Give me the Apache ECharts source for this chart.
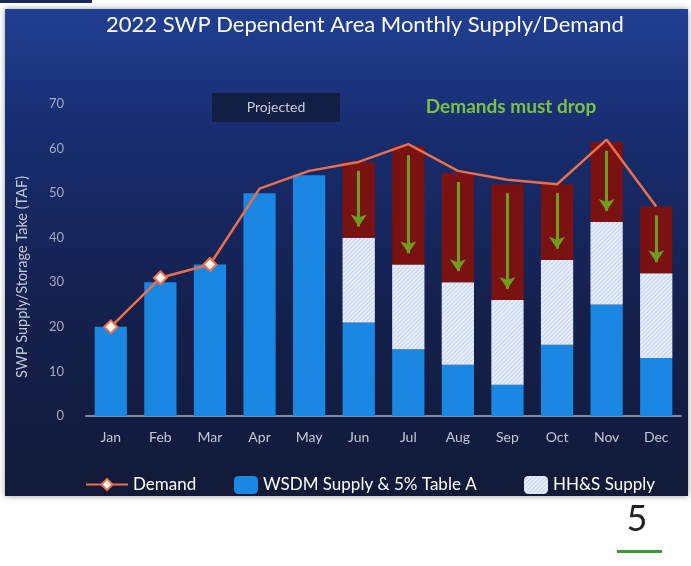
<!DOCTYPE html>
<html>
<head>
<meta charset="utf-8">
<script src="https://cdn.jsdelivr.net/npm/echarts@6/dist/echarts.min.js"></script>
<style>
  html, body { margin: 0; padding: 0; background: #fff; }
  #main { width: 691px; height: 566px; }
</style>
</head>
<body>
<div id="main"></div>
<script>
var months = ['Jan','Feb','Mar','Apr','May','Jun','Jul','Aug','Sep','Oct','Nov','Dec'];
var demand = [20, 31, 34, 51, 55, 57, 61, 55, 53, 52, 62, 47];
var wsdmSupply = [20, 30, 34, 50, 54, 21, 15, 11.5, 7, 16, 25, 13];
var hhsSupply = [null, null, null, null, null, 19, 19, 18.5, 19, 19, 18.5, 19];
var shortfall = [null, null, null, null, null, 17, 26.5, 24.5, 26, 17, 18, 15];
var yTicks = [0, 10, 20, 30, 40, 50, 60, 70];

var dom = document.getElementById('main');
var myChart = echarts.init(dom);

// demand markers only on the first three (actual) months
var demandData = demand.map(function (v, i) {
    return i < 3 ? v : { value: v, symbol: 'none' };
});

// green arrows inside the red "must drop" segments
var arrows = [];
months.forEach(function (m, i) {
    if (shortfall[i] == null) return;
    var base = wsdmSupply[i] + hhsSupply[i];
    var top = base + shortfall[i];
    arrows.push([{ coord: [m, top - 2] }, { coord: [m, base + 2.5] }]);
});

var fontName = 'Lato';

option = {
    backgroundColor: '#ffffff',
    textStyle: { fontFamily: fontName },
    graphic: [
        {
            type: 'rect', z: -10, silent: true,
            shape: { x: 5, y: 9, width: 683, height: 487 },
            style: {
                fill: new echarts.graphic.LinearGradient(0, 0, 0, 1, [
                    { offset: 0, color: '#213f92' },
                    { offset: 0.25, color: '#182d70' },
                    { offset: 0.6, color: '#15214e' },
                    { offset: 1, color: '#121a38' }
                ]),
                shadowBlur: 6, shadowColor: 'rgba(0,0,0,0.4)'
            }
        },
        {
            type: 'rect', z: -10, silent: true,
            shape: { x: 0, y: 0, width: 92, height: 3 },
            style: { fill: '#1a2a55' }
        },
        {
            type: 'rect', silent: true,
            shape: { x: 212, y: 93, width: 128, height: 29 },
            style: { fill: '#121f45' }
        },
        {
            type: 'text', silent: true, x: 276, y: 107,
            style: { text: 'Projected', fill: '#c8cfdc', fontSize: 14, fontFamily: fontName, align: 'center', verticalAlign: 'middle' }
        },
        {
            type: 'text', silent: true, x: 511, y: 107,
            style: { text: 'Demands must drop', fill: '#7cc142', fontSize: 19, fontWeight: 'bold', fontFamily: fontName, align: 'center', verticalAlign: 'middle' }
        },
        {
            type: 'text', silent: true, x: 637, y: 519,
            style: { text: '5', fill: '#222', fontSize: 36, fontFamily: fontName, align: 'center', verticalAlign: 'middle' }
        },
        {
            type: 'rect', silent: true,
            shape: { x: 617, y: 550, width: 45, height: 3 },
            style: { fill: '#3a9a3a' }
        }
    ],
    title: {
        text: '2022 SWP Dependent Area Monthly Supply/Demand',
        left: 360, top: 9, textAlign: 'center',
        textStyle: { color: '#ffffff', fontSize: 22, fontWeight: 'normal', fontFamily: fontName }
    },
    legend: [
        {
            data: ['Demand'], left: 80, top: 471, itemWidth: 42, itemHeight: 14,
            textStyle: { color: '#ffffff', fontSize: 17, fontFamily: fontName }
        },
        {
            data: ['WSDM Supply & 5% Table A'], left: 229, top: 471, itemWidth: 24, itemHeight: 18,
            textStyle: { color: '#ffffff', fontSize: 17, fontFamily: fontName }
        },
        {
            data: ['HH&S Supply'], left: 519, top: 471, itemWidth: 24, itemHeight: 18,
            textStyle: { color: '#ffffff', fontSize: 17, fontFamily: fontName }
        }
    ],
    grid: { left: 86, right: 10, top: 104, bottom: 150 },
    xAxis: {
        type: 'category',
        data: months,
        axisTick: { show: false },
        axisLine: { lineStyle: { color: '#7f8aa3', width: 2 } },
        axisLabel: { color: '#c3c9d6', fontSize: 14, margin: 14, fontFamily: fontName }
    },
    yAxis: {
        type: 'value',
        min: yTicks[0], max: yTicks[yTicks.length - 1], interval: 10,
        name: 'SWP Supply/Storage Take (TAF)',
        nameLocation: 'middle', nameGap: 56, nameRotate: 90,
        nameTextStyle: { color: '#c3c9d6', fontSize: 14.5, fontFamily: fontName, padding: [0, 34, 0, 0] },
        splitLine: { show: false },
        axisLine: { show: false },
        axisTick: { show: false },
        axisLabel: { color: '#a3abbd', fontSize: 13, margin: 22, fontFamily: fontName }
    },
    series: [
        {
            name: 'WSDM Supply & 5% Table A',
            type: 'bar', stack: 'supply',
            barWidth: '65%',
            itemStyle: { color: '#1a88e3' },
            data: wsdmSupply
        },
        {
            name: 'HH&S Supply',
            type: 'bar', stack: 'supply',
            itemStyle: {
                color: '#e6edf9',
                decal: {
                    symbol: 'rect',
                    dashArrayX: [1, 0],
                    dashArrayY: [1, 2],
                    rotation: -Math.PI / 4,
                    color: 'rgba(160,182,225,0.45)'
                }
            },
            data: hhsSupply
        },
        {
            name: 'Shortfall',
            type: 'bar', stack: 'supply',
            itemStyle: { color: '#7a1212' },
            data: shortfall,
            markLine: {
                silent: true,
                symbol: ['none', 'arrow'],
                symbolSize: [12, 12],
                label: { show: false },
                lineStyle: { color: '#6f9e1c', width: 3, type: 'solid' },
                data: arrows
            }
        },
        {
            name: 'Demand',
            type: 'line',
            symbol: 'diamond', symbolSize: 13,
            lineStyle: { color: '#ec6f4c', width: 2.5 },
            itemStyle: { color: '#fff6ee', borderColor: '#ec6f4c', borderWidth: 2 },
            z: 5,
            data: demandData
        }
    ]
};

if (option && typeof option === "object") {
    myChart.setOption(option, true);
}
</script>
</body>
</html>
